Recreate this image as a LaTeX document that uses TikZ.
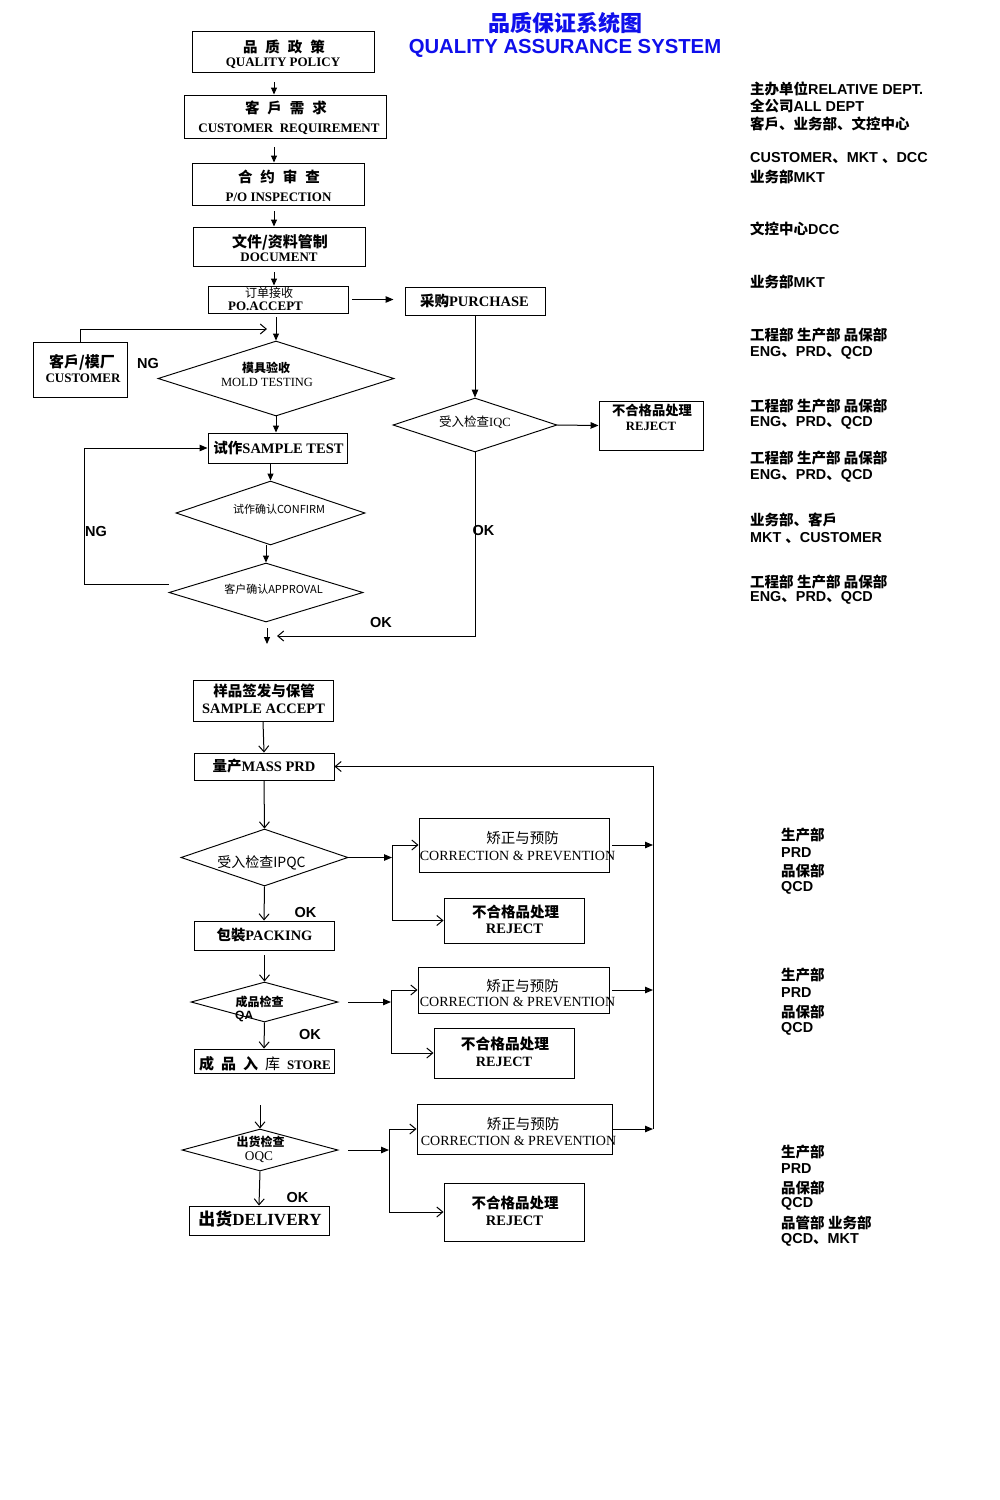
\documentclass[tikz,border=0pt]{standalone}
\usepackage{fontspec}
\setmainfont{Liberation Serif}
\newfontfamily\cjk{Noto Sans CJK SC}
\newfontfamily\arial{Liberation Sans}
\usetikzlibrary{arrows.meta,shapes.geometric}
\newcommand\fsz[1]{\fontsize{#1pt}{#1pt}\selectfont}
\newcommand\zhb[1]{{\cjk\bfseries #1}}
\newcommand\zhr[1]{{\cjk #1}}
\newcommand\rzh[1]{{\fsz{14.5}\cjk\bfseries #1}}
\definecolor{titleblue}{RGB}{15,15,235}
\begin{document}
\begin{tikzpicture}[x=1pt,y=-1pt,
  ln/.style={line width=1pt},
  box/.style={draw,line width=0.95pt,inner sep=0pt,rectangle},
  dia/.style={draw,line width=0.95pt,inner sep=0pt,diamond},
  tx/.style={inner sep=0pt},
  fa/.style={ln,-{Triangle[length=7pt,width=6pt]}},
  fb/.style={ln,-{Triangle[length=8pt,width=6.5pt]}},
  oa/.style={ln,-{Straight Barb[length=6pt,width=10pt]}},
  rt/.style={anchor=west,inner sep=0pt,font=\fsz{14.4}\arial\bfseries},
  lab/.style={inner sep=0pt,font=\fsz{14.5}\arial\bfseries}
]
\useasboundingbox (0,0) rectangle (1000,1500);
\fill[white] (0,0) rectangle (1000,1500);

% ---------- title ----------
\node[tx,font=\fsz{22}\cjk\bfseries,text=titleblue] (ttl1) at (565,23) {品质保证系统图};
\node[tx,font=\fsz{20.3}\arial\bfseries,text=titleblue] (ttl2) at (565,48) {QUALITY ASSURANCE SYSTEM};

% ---------- boxes ----------
\node[box,minimum width=182pt,minimum height=41pt] (qp) at (283,51.5) {};
\node[box,minimum width=202pt,minimum height=43pt] (cr) at (285,116.5) {};
\node[box,minimum width=172pt,minimum height=42pt] (poi) at (278,184) {};
\node[box,minimum width=172pt,minimum height=39pt] (doc) at (279,246.5) {};
\node[box,minimum width=140pt,minimum height=27pt] (poa) at (278,299.5) {};
\node[box,minimum width=140pt,minimum height=28pt] (pur) at (475,301) {};
\node[box,minimum width=104pt,minimum height=49pt] (rj0) at (651,425.5) {};
\node[box,minimum width=94pt,minimum height=55pt] (cust) at (80,369.5) {};
\node[box,minimum width=139pt,minimum height=30pt] (st) at (277.5,448) {};
\node[box,minimum width=140pt,minimum height=41pt] (sa) at (263,700.5) {};
\node[box,minimum width=140pt,minimum height=27pt] (mp) at (264,766.5) {};
\node[box,minimum width=190pt,minimum height=54pt] (cp1) at (514,845) {};
\node[box,minimum width=140pt,minimum height=45pt] (rj1) at (514,920.5) {};
\node[box,minimum width=140pt,minimum height=29pt] (pk) at (264,935.5) {};
\node[box,minimum width=191pt,minimum height=46pt] (cp2) at (513.5,990) {};
\node[box,minimum width=140pt,minimum height=50pt] (rj2) at (504,1053) {};
\node[box,minimum width=140pt,minimum height=24pt] (sto) at (264,1061) {};
\node[box,minimum width=195pt,minimum height=50pt] (cp3) at (514.5,1129) {};
\node[box,minimum width=140pt,minimum height=58pt] (rj3) at (514,1212) {};
\node[box,minimum width=140pt,minimum height=29pt] (dl) at (259,1220.5) {};

% ---------- diamonds ----------
\node[dia,minimum width=236pt,minimum height=75pt] (mold) at (276,378.5) {};
\node[dia,minimum width=164pt,minimum height=54pt] (iqc) at (475,425) {};
\node[dia,minimum width=189pt,minimum height=64pt] (conf) at (270.5,513) {};
\node[dia,minimum width=194pt,minimum height=59pt] (appr) at (266,592.5) {};
\node[dia,minimum width=167pt,minimum height=57pt] (ipqc) at (264.5,857.5) {};
\node[dia,minimum width=147pt,minimum height=40pt] (qa) at (264.5,1002) {};
\node[dia,minimum width=156pt,minimum height=42pt] (oqc) at (260,1150) {};

% ---------- texts in top section ----------
\node[tx,font=\fsz{14.5}\cjk\bfseries] (qp1) at (284,47) {品\hspace{8pt}质\hspace{8pt}政\hspace{8pt}策};
\node[tx,font=\fsz{13}\bfseries] (qp2) at (283,63) {QUALITY POLICY};
\node[tx,font=\fsz{14.5}\cjk\bfseries] (cr1) at (286,108) {客\hspace{8pt}戶\hspace{8pt}需\hspace{8pt}求};
\node[tx,font=\fsz{13}\bfseries] (cr2) at (289,129) {CUSTOMER\ \ REQUIREMENT};
\node[tx,font=\fsz{14.5}\cjk\bfseries] (poi1) at (279,177) {合\hspace{8pt}约\hspace{8pt}审\hspace{8pt}查};
\node[tx,font=\fsz{13}\bfseries] (poi2) at (278.5,197) {P/O INSPECTION};
\node[tx,font=\fsz{15}\cjk\bfseries] (doc1) at (280,242) {文件/资料管制};
\node[tx,font=\fsz{13}\bfseries] (doc2) at (279,257) {DOCUMENT};
\node[tx,font=\fsz{12}\cjk] (poa1) at (269,293) {订单接收};
\node[tx,font=\fsz{13}\bfseries] (poa2) at (265.5,306) {PO.ACCEPT};
\node[tx,font=\fsz{14.5}\bfseries] (pur1) at (474.5,301) {\zhr{采购}PURCHASE};
\node[tx,font=\fsz{12.5}] (iqc1) at (475,422) {\zhr{受入检查}IQC};
\node[tx,font=\fsz{13.3}\cjk\bfseries] (rj01) at (652,410) {不合格品处理};
\node[tx,font=\fsz{12.7}\bfseries] (rj02) at (651,426) {REJECT};
\node[tx,font=\fsz{15}\cjk\bfseries] (cu1) at (82,362) {客戶/模厂};
\node[tx,font=\fsz{13}\bfseries] (cu2) at (83,378) {CUSTOMER};
\node[tx,font=\fsz{12}\cjk\bfseries] (mo1) at (266,368) {模具验收};
\node[tx,font=\fsz{12.5}] (mo2) at (267,382) {MOLD TESTING};
\node[tx,font=\fsz{14.5}\bfseries] (st1) at (278.5,448) {\zhb{试作}SAMPLE TEST};
\node[tx,font=\fsz{11}\cjk] (cf1) at (279,509) {试作确认CONFIRM};
\node[tx,font=\fsz{11}\cjk] (ap1) at (273.5,589) {客户确认APPROVAL};
\node[lab] (ng1) at (148,364) {NG};
\node[lab] (ng2) at (96,531) {NG};
\node[lab] (ok1) at (483.5,530) {OK};
\node[lab] (ok2) at (381,622) {OK};

% ---------- texts in lower section ----------
\node[tx,font=\fsz{14.5}\cjk\bfseries] (sa1) at (264,691) {样品签发与保管};
\node[tx,font=\fsz{14.4}\bfseries] (sa2) at (263.5,709) {SAMPLE ACCEPT};
\node[tx,font=\fsz{14.5}\bfseries] (mp1) at (264,766) {\zhb{量产}MASS PRD};
\node[tx,font=\fsz{14}\cjk] (ip1) at (261.5,863) {受入检查IPQC};
\node[tx,font=\fsz{14.5}\cjk] (c11) at (522.5,838) {矫正与预防};
\node[tx,font=\fsz{14}] (c12) at (517.5,856) {CORRECTION \& PREVENTION};
\node[tx,font=\fsz{14.5}\cjk\bfseries] (r11) at (515.5,912) {不合格品处理};
\node[tx,font=\fsz{14.5}\bfseries] (r12) at (514.5,929) {REJECT};
\node[tx,font=\fsz{14.4}\bfseries] (pk1) at (264.5,935) {\zhb{包裝}PACKING};
\node[lab] (ok3) at (305.5,912) {OK};
\node[tx,font=\fsz{12}\cjk\bfseries] (qa1) at (259.5,1002) {成品检查};
\node[tx,font=\fsz{12}\arial\bfseries,anchor=west] (qa2) at (235,1016) {QA};
\node[lab] (ok4) at (310,1034) {OK};
\node[tx,font=\fsz{14.5}\cjk] (c21) at (522.5,986) {矫正与预防};
\node[tx,font=\fsz{14}] (c22) at (517.5,1002) {CORRECTION \& PREVENTION};
\node[tx,font=\fsz{14.7}\cjk\bfseries] (r21) at (505,1044) {不合格品处理};
\node[tx,font=\fsz{14.2}\bfseries] (r22) at (504,1062) {REJECT};
\node[tx,font=\fsz{15}] (sto1) at (265,1064) {\zhb{成\hspace{7pt}品\hspace{7pt}入\hspace{7pt}}\zhr{库}\hspace{7pt}{\fsz{13}\bfseries STORE}};
\node[tx,font=\fsz{12}\cjk\bfseries] (oq1) at (260.5,1142) {出货检查};
\node[tx,font=\fsz{13.3}] (oq2) at (259,1157) {OQC};
\node[lab] (ok5) at (297.5,1197) {OK};
\node[tx,font=\fsz{14.5}\cjk] (c31) at (523,1124) {矫正与预防};
\node[tx,font=\fsz{14}] (c32) at (518.5,1141) {CORRECTION \& PREVENTION};
\node[tx,font=\fsz{14.5}\cjk\bfseries] (r31) at (515,1203) {不合格品处理};
\node[tx,font=\fsz{14.5}\bfseries] (r32) at (514.5,1221) {REJECT};
\node[tx,font=\fsz{17}\bfseries] (dl1) at (260,1219) {\zhb{出}\zhr{货}DELIVERY};

% ---------- right column ----------
\node[rt] (d1) at (750,89) {\rzh{主办单位}RELATIVE DEPT.};
\node[rt] (d2) at (750,106) {\rzh{全公司}ALL DEPT};
\node[rt] (d3) at (750,124) {\rzh{客戶、业务部、文控中心}};
\node[rt] (d4) at (750,158) {CUSTOMER\rzh{、}MKT \rzh{、}DCC};
\node[rt] (d5) at (750,177) {\rzh{业务部}MKT};
\node[rt] (d6) at (750,229) {\rzh{文控中心}DCC};
\node[rt] (d7) at (750,282) {\rzh{业务部}MKT};
\node[rt] (d8) at (750,335) {\rzh{工程部 生产部 品保部}};
\node[rt] (d9) at (750,353) {ENG\rzh{、}PRD\rzh{、}QCD};
\node[rt] (d10) at (750,406) {\rzh{工程部 生产部 品保部}};
\node[rt] (d11) at (750,423) {ENG\rzh{、}PRD\rzh{、}QCD};
\node[rt] (d12) at (750,458) {\rzh{工程部 生产部 品保部}};
\node[rt] (d13) at (750,476) {ENG\rzh{、}PRD\rzh{、}QCD};
\node[rt] (d14) at (750,520) {\rzh{业务部、客戶}};
\node[rt] (d15) at (750,538) {MKT \rzh{、}CUSTOMER};
\node[rt] (d16) at (750,582) {\rzh{工程部 生产部 品保部}};
\node[rt] (d17) at (750,598) {ENG\rzh{、}PRD\rzh{、}QCD};

\node[rt] (e1) at (781,835) {\rzh{生产部}};
\node[rt] (e2) at (781,853) {PRD};
\node[rt] (e3) at (781,871) {\rzh{品保部}};
\node[rt] (e4) at (781,888) {QCD};
\node[rt] (e5) at (781,975) {\rzh{生产部}};
\node[rt] (e6) at (781,993) {PRD};
\node[rt] (e7) at (781,1012) {\rzh{品保部}};
\node[rt] (e8) at (781,1029) {QCD};
\node[rt] (e9) at (781,1152) {\rzh{生产部}};
\node[rt] (e10) at (781,1169) {PRD};
\node[rt] (e11) at (781,1188) {\rzh{品保部}};
\node[rt] (e12) at (781,1204) {QCD};
\node[rt] (e13) at (781,1223) {\rzh{品管部 业务部}};
\node[rt] (e14) at (781,1240) {QCD\rzh{、}MKT};

% ---------- connectors, top section ----------
\coordinate (ax) at (274,0);
\draw[fa,shorten <=10pt] (qp.south -| ax) -- (cr.north -| ax);
\draw[fa,shorten <=9pt] (cr.south -| ax) -- (poi.north -| ax);
\draw[fa,shorten <=6pt] (poi.south -| ax) -- (doc.north -| ax);
\draw[fa,shorten <=6pt] (doc.south -| ax) -- (poa.north -| ax);
\draw[fa,shorten <=4pt] (poa.south -| mold.north) -- (mold.north);
\draw[fb,shorten <=4pt,shorten >=11pt] (poa.east) -- (poa.east -| pur.west);
\draw[fb] (pur.south) -- (iqc.north);
\draw[fb] (iqc.east) -- (rj0.west);
\coordinate (okc) at (475,636);
\coordinate (okend) at (277,636);
\draw[oa] (iqc.south) -- (okc) -- (okend);
\coordinate (cm) at (80,329);
\coordinate (cmend) at (267,329);
\draw[oa] (cust.north) -- (cm) -- (cmend);
\draw[fa] (mold.south) -- (st.north -| mold.south);
\draw[fa] (st.south -| conf.north) -- (conf.north);
\draw[fa] (conf.south -| appr.north) -- (appr.north);
\coordinate (apend) at (267,644);
\draw[fa,shorten <=6pt] (appr.south -| apend) -- (apend);
\coordinate (nga) at (84,584);
\draw[fb] (appr.west |- nga) -- (nga) |- (st.west);

% ---------- connectors, lower section ----------
\draw[oa] (sa.south) -- (mp.north);
\draw[oa] (mp.south) -- (ipqc.north);
\draw[oa] (ipqc.south) -- (pk.north);
\draw[oa,shorten <=5pt] (pk.south -| qa.north) -- (qa.north);
\draw[oa] (qa.south) -- (sto.north);
\coordinate (oqs) at (260,1105);
\draw[oa] (oqs) -- (oqc.north);
\draw[oa] (oqc.south) -- (dl.north);

\coordinate (b1) at (392,857.5);
\draw[fb] (ipqc.east) -- (b1);
\draw[oa] (b1) |- (cp1.west);
\draw[oa] (b1) |- (rj1.west);
\coordinate (b2) at (391,1002);
\draw[fb,shorten <=10pt] (qa.east) -- (b2);
\draw[oa] (b2) |- (cp2.west);
\draw[oa] (b2) |- (rj2.west);
\coordinate (b3) at (389,1150);
\draw[fb,shorten <=10pt] (oqc.east) -- (b3);
\draw[oa] (b3) |- (cp3.west);
\draw[oa] (b3) |- (rj3.west);

\coordinate (fbt) at (653,766.5);
\draw[fb,shorten <=3pt] (cp1.east) -- (cp1.east -| fbt);
\draw[fb,shorten <=3pt] (cp2.east) -- (cp2.east -| fbt);
\draw[fb] (cp3.east) -- (cp3.east -| fbt);
\draw[oa] (cp3.east -| fbt) -- (fbt) -- (mp.east);
\end{tikzpicture}
\end{document}
